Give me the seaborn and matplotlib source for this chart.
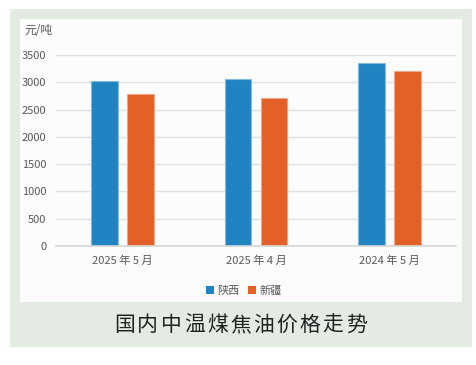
import matplotlib
matplotlib.use("Agg")
import matplotlib.pyplot as plt
import seaborn as sns
import pandas as pd
from matplotlib.patches import Rectangle

categories = ["2025 年 5 月", "2025 年 4 月", "2024 年 5 月"]
series_names = ["陕西", "新疆"]
shaanxi = [3020, 3055, 3360]
xinjiang = [2780, 2705, 3205]
yticks = [0, 500, 1000, 1500, 2000, 2500, 3000, 3500]
title = "国内中温煤焦油价格走势"
unit = "元/吨"

sns.set_theme(style="white")
plt.rcParams["font.family"] = ["Noto Sans CJK SC", "DejaVu Sans"]

df = pd.DataFrame({
    "cat": categories * 2,
    "series": [series_names[0]] * 3 + [series_names[1]] * 3,
    "value": shaanxi + xinjiang,
})

W, H = 477, 365
fig = plt.figure(figsize=(W / 100, H / 100), dpi=100)
fig.patch.set_facecolor("white")

def fx(px):
    return px / W

def fy(py):
    return 1 - py / H

# background panels
fig.patches.append(Rectangle((fx(10), fy(347)), fx(472) - fx(10), fy(9) - fy(347),
                             transform=fig.transFigure, facecolor="#e3ebe3", edgecolor="none", zorder=-2))
fig.patches.append(Rectangle((fx(20), fy(302)), fx(462) - fx(20), fy(19) - fy(302),
                             transform=fig.transFigure, facecolor="#fcfcfc", edgecolor="none", zorder=-1))

ax = fig.add_axes([fx(56), fy(246), fx(456) - fx(56), fy(55) - fy(246)])
ax.set_facecolor("none")

palette = {"陕西": "#1f84c1", "新疆": "#e36027"}
sns.barplot(data=df, x="cat", y="value", hue="series", hue_order=series_names,
            palette=palette, width=0.54, gap=0.26, ax=ax, saturation=1,
            edgecolor="none", linewidth=0)

for p in ax.patches:
    fc = p.get_facecolor()
    ec = tuple(min(1, c + (1 - c) * 0.45) for c in fc[:3])
    p.set_edgecolor(ec)
    p.set_linewidth(0.8)

ax.set_xlim(-0.5, 2.5)
ax.set_ylim(0, 3500)
ax.set_yticks(yticks)
ax.set_yticklabels([str(v) for v in yticks])
ax.yaxis.grid(True, color="#e2e2e2", linewidth=1.0)
ax.set_axisbelow(True)
for s in ["top", "right", "left"]:
    ax.spines[s].set_visible(False)
ax.spines["bottom"].set_color("#d6d6d6")
ax.spines["bottom"].set_linewidth(1.2)
ax.tick_params(axis="both", length=0, colors="#595959", labelsize=8)
ax.tick_params(axis="y", pad=7)
ax.tick_params(axis="x", pad=7)
ax.set_xlabel("")
ax.set_ylabel("")

sns.move_legend(ax, loc="center", bbox_to_anchor=(fx(244), fy(291)),
                bbox_transform=fig.transFigure, ncol=2, frameon=False, title=None,
                fontsize=8, handlelength=0.7, handleheight=0.7, handletextpad=0.3,
                columnspacing=0.8, labelcolor="#595959")

fig.text(fx(24), fy(31), unit, ha="left", va="center", fontsize=8.5, color="#595959")
# title with letter spacing
x0, x1 = 113, 368
step = (x1 - x0) / len(title)
for i, ch in enumerate(title):
    fig.text(fx(x0 + step * (i + 0.5)), fy(325), ch, ha="center", va="center",
             fontsize=15, color="#222222")

fig.savefig("out.png", dpi=100, facecolor="white")
